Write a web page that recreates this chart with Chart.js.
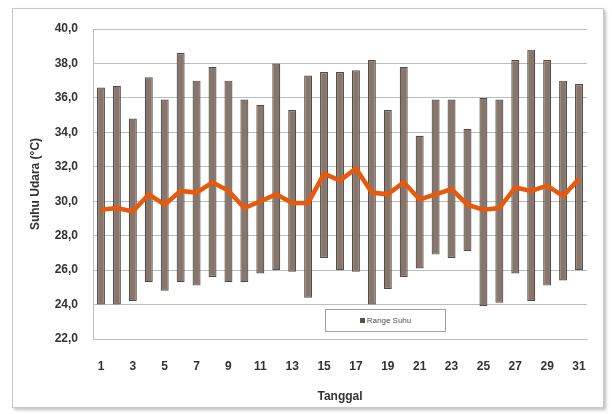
<!DOCTYPE html>
<html>
<head>
<meta charset="utf-8">
<script src="https://cdn.jsdelivr.net/npm/chart.js@4"></script>
<style>
  html, body { margin:0; padding:0; background:#fff; }
  body { width:612px; height:414px; position:relative; overflow:hidden; }
  #frame { position:absolute; left:12px; top:8px; width:590px; height:398px; border:1px solid #c8c8c8; box-shadow:2px 2px 3px rgba(0,0,0,0.25); background:#fff; }
  #wrap { position:absolute; left:0; top:0; width:612px; height:414px; }
  #legend { position:absolute; left:325px; top:309px; width:119px; height:21px; border:1px solid #a0a0a0; background:#fff;
            font:8px "Liberation Sans", Arial, sans-serif; color:#555; display:flex; align-items:center; justify-content:center; }
  #legend span.sw { display:inline-block; width:5px; height:5px; background:#5a4f4a; margin-right:2px; }
</style>
</head>
<body>
<div id="frame"></div>
<div id="wrap"><canvas id="c" width="612" height="414"></canvas></div>
<div id="legend"><span class="sw"></span>Range Suhu</div>
<script>
const days = Array.from({length:31}, (_, i) => String(i + 1));
const tMin = [24.0,24.0,24.2,25.3,24.8,25.3,25.1,25.6,25.3,25.3,25.8,26.0,25.9,24.4,26.7,26.0,25.9,24.0,24.9,25.6,26.1,26.9,26.7,27.1,23.9,24.1,25.8,24.2,25.1,25.4,26.0];
const tMax = [36.6,36.7,34.8,37.2,35.9,38.6,37.0,37.8,37.0,35.9,35.6,38.0,35.3,37.3,37.5,37.5,37.6,38.2,35.3,37.8,33.8,35.9,35.9,34.2,36.0,35.9,38.2,38.8,38.2,37.0,36.8];
const tAvg = [29.5,29.6,29.4,30.4,29.8,30.6,30.5,31.1,30.6,29.6,30.0,30.4,29.9,29.9,31.6,31.2,31.9,30.5,30.4,31.1,30.1,30.4,30.7,29.8,29.5,29.6,30.8,30.6,30.9,30.3,31.3];
const yMin = 22, yMax = 40, yStep = 2;

const rangeData = tMin.map((v, i) => [v, tMax[i]]);
const fontFam = '"Liberation Sans", Arial, sans-serif';

new Chart(document.getElementById('c'), {
  data: {
    labels: days,
    datasets: [
      { type:'line', label:'Rata-rata', data:tAvg, borderColor:'#e8590c', borderWidth:4.5, pointRadius:0, tension:0, order:0 },
      { type:'bar', label:'Range Suhu', data:rangeData, backgroundColor:'#86766b', borderColor:'#574c47', borderWidth:1.2,
        borderSkipped:false, barPercentage:0.5, categoryPercentage:1.0, order:1 }
    ]
  },
  options: {
    responsive:false, animation:false,
    layout: { padding: { left:28, top:29, right:25, bottom:0 } },
    plugins: { legend:{ display:false }, tooltip:{ enabled:false } },
    scales: {
      x: {
        grid: { display:false, drawTicks:false },
        border: { color:'#c0c0c0' },
        ticks: { autoSkip:false, maxRotation:0, padding:20, color:'#333',
                 font:{ family:fontFam, size:12, weight:'bold' },
                 callback: function(v, i) { return i % 2 === 0 ? days[i] : ''; } },
        title: { display:true, text:'Tanggal', color:'#333', font:{ family:fontFam, size:12, weight:'bold' }, padding:{ top:4, bottom:10 } },
        afterFit: function(s) { s.height = 75; }
      },
      y: {
        min:yMin, max:yMax,
        grid: { color:'#bdbdbd', drawTicks:false },
        border: { display:true, color:'#c0c0c0' },
        ticks: { stepSize:yStep, padding:15, color:'#333',
                 font:{ family:fontFam, size:12, weight:'bold' },
                 callback: v => v.toFixed(1).replace('.', ',') },
        title: { display:true, text:'Suhu Udara (°C)', color:'#333', font:{ family:fontFam, size:12, weight:'bold' }, padding:{ top:0, bottom:4 } },
        afterFit: function(s) { s.width = 65; }
      }
    }
  }
});
</script>
</body>
</html>
